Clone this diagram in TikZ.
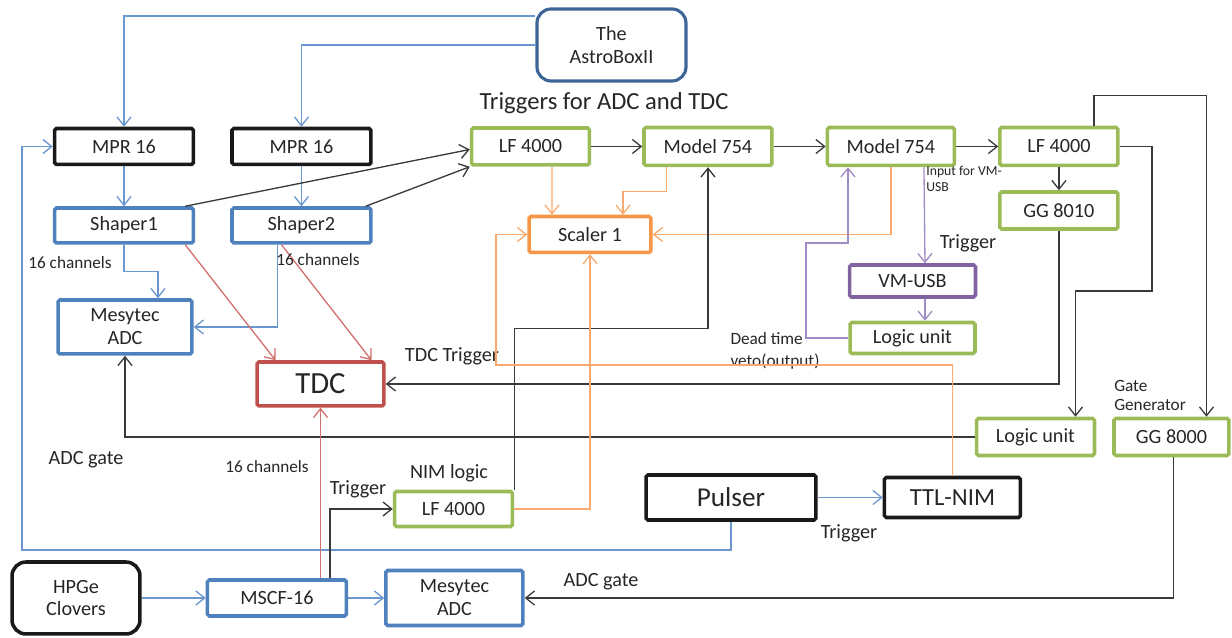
\documentclass[tikz,border=0pt]{standalone}
\usepackage{fontspec}
\setmainfont{Carlito}
\usetikzlibrary{positioning, arrows.meta, calc}
\definecolor{ink}{HTML}{262626}
\definecolor{modblue}{HTML}{4F81BD}
\definecolor{hostblue}{HTML}{3E6597}
\definecolor{modgreen}{HTML}{9BBB59}
\definecolor{modorange}{HTML}{F79646}
\definecolor{modred}{HTML}{C0504D}
\definecolor{modpurple}{HTML}{8064A2}
\definecolor{wireblue}{HTML}{6A97CF}
\definecolor{wireorange}{HTML}{F9AA6E}
\definecolor{wirered}{HTML}{D2716E}
\definecolor{wirepurple}{HTML}{A18DC4}
\definecolor{wiregrey}{HTML}{3A3A3A}
\tikzset{
  modbase/.style  = {rectangle, rounded corners=1pt, line width=2pt,
                     minimum width=2.36cm, minimum height=0.74cm, inner sep=1pt,
                     align=center, text=ink, font=\fontsize{11.5}{13}\selectfont},
  blackbox/.style = {modbase, draw=black!90},
  bluebox/.style  = {modbase, draw=modblue},
  greenbox/.style = {modbase, draw=modgreen},
  orangebox/.style= {modbase, draw=modorange},
  redbox/.style   = {modbase, draw=modred},
  purplebox/.style= {modbase, draw=modpurple},
  srcbox/.style   = {modbase, rounded corners=0.28cm},
  note/.style     = {inner sep=0pt, align=left, text=ink,
                     font=\fontsize{11.5}{13}\selectfont},
  smallnote/.style= {note, font=\fontsize{9.8}{11}\selectfont},
  arr/.style      = {-{Straight Barb[length=5pt,width=8pt]}, line width=0.75pt},
  barr/.style     = {arr, draw=wireblue},
  karr/.style     = {arr, draw=wiregrey},
  oarr/.style     = {arr, draw=wireorange},
  rarr/.style     = {arr, draw=wirered},
  parr/.style     = {arr, draw=wirepurple},
}
\begin{document}
\begin{tikzpicture}[x=0.02cm, y=-0.02cm]
  \useasboundingbox (0,0) rectangle (1232,638);

  % Silicon readout
  \node[srcbox, draw=hostblue, line width=1.8pt, minimum width=2.98cm, minimum height=1.44cm] (astro) at (611.5,45) {The\\AstroBoxII};
  \node[blackbox, minimum width=2.78cm, minimum height=0.72cm] (mprA) at (124,146.5) {MPR 16};
  \node[blackbox, minimum width=2.78cm, minimum height=0.72cm, right=0.7cm of mprA] (mprB) {MPR 16};
  \node[bluebox, minimum width=2.78cm, minimum height=0.7cm, below=0.8cm of mprA] (shpA) {Shaper1};
  \node[bluebox, minimum width=2.78cm, minimum height=0.7cm, below=0.8cm of mprB] (shpB) {Shaper2};
  \node[bluebox, minimum width=2.68cm, minimum height=1.08cm] (adcA) at (125,327) {Mesytec\\ADC};
  \node[redbox, minimum width=2.54cm, minimum height=0.88cm, font=\fontsize{17.5}{19}\selectfont] (tdc) at (320.5,384) {TDC};
  \draw[barr] (astro.west |- 0,16) -| (mprA.north);
  \draw[barr] (astro.west) -| (mprB.north);
  \draw[barr] (mprA) -- (shpA);
  \draw[barr] (mprB) -- (shpB);
  \draw[barr] (shpA.south) -- ++(0,27) -| ($(adcA.north)+(33,0)$);
  \draw[barr] ($(shpB.south)+(-24,0)$) |- (adcA.east);
  \draw[rarr] ($(shpA.south east)+(-10,0)$) -- ($(tdc.north)+(-45,0)$);
  \draw[rarr] ($(shpB.south)+(-20,0)$) -- ($(tdc.north)+(51,0)$);
  \node[smallnote] (chA) at (70,263) {16 channels};
  \node[smallnote] (chB) at (318,260) {16 channels};

  % Triggers for ADC and TDC
  \node[note, font=\fontsize{14}{16}\selectfont] (head) at (604,103) {Triggers for ADC and TDC};
  \node[greenbox] (lfA) at (530.5,146.5) {LF 4000};
  \node[greenbox, minimum width=2.56cm, minimum height=0.76cm, right=1.02cm of lfA] (modA) {Model 754};
  \node[greenbox, minimum width=2.54cm, minimum height=0.76cm, right=1.04cm of modA] (modB) {Model 754};
  \node[greenbox, minimum height=0.76cm, right=0.84cm of modB] (lfB) {LF 4000};
  \node[greenbox, below=0.46cm of lfB] (gg8010) {GG 8010};
  \node[orangebox, minimum width=2.44cm, minimum height=0.72cm] (scaler) at (590,234.5) {Scaler 1};
  \node[purplebox, minimum width=2.52cm, minimum height=0.64cm] (vmusb) at (912.5,281) {VM-USB};
  \node[greenbox, minimum width=2.5cm, minimum height=0.62cm, below=0.44cm of vmusb] (logicA) {Logic unit};
  \node[greenbox] (logicB) at (1035.5,437) {Logic unit};
  \node[greenbox, minimum width=2.3cm, right=0.32cm of logicB] (gg8000) {GG 8000};
  \draw[karr] ($(shpA.north east)+(-10,0)$) -- ($(lfA.west)+(0,3)$);
  \draw[karr] ($(shpB.north east)+(-7,0)$) -- (lfA.south west);
  \draw[karr] (lfA) -- (modA);
  \draw[karr] (modA) -- (modB);
  \draw[karr] (modB) -- (lfB);
  \draw[karr] (lfB) -- (gg8010);
  \draw[karr] ($(lfB.north)+(35,0)$) -- ++(0,-30) -| ($(gg8000.north)+(35,0)$);
  \draw[karr] (lfB.east) -| (1152,291) -| ($(logicB.north)+(40,0)$);
  \draw[karr] (gg8010.south) |- (tdc.east);
  \draw[karr] (logicB.west) -| (adcA.south);
  \draw[oarr] ($(lfA.south)+(21.5,0)$) -- ($(scaler.north)+(-38,0)$);
  \draw[oarr] ($(modA.south)+(-41.5,0)$) -- ++(0,24) -| ($(scaler.north)+(33,0)$);
  \draw[oarr] (modB.south) |- (scaler.east);
  \draw[parr] ($(modB.south)+(33,0)$) -- ($(vmusb.north)+(12.5,0)$);
  \draw[parr] ($(vmusb.south)+(12.5,0)$) -- ($(logicA.north)+(12.5,0)$);
  \draw[parr] (logicA.west) -| (806,243) -| ($(modB.south)+(-43,0)$);
  \node[note, font=\fontsize{7.8}{9}\selectfont, anchor=north west] (vmin) at (926,166) {Input for VM-\\USB};
  \node[note] (trigV) at (968,243) {Trigger};
  \node[smallnote, font=\fontsize{9.8}{12.5}\selectfont] (dead) at (775,351) {Dead time\\veto(output)};
  \node[smallnote, font=\fontsize{9.8}{10.8}\selectfont] (gatelab) at (1150,395) {Gate\\Generator};
  \node[note] (tdctrig) at (452,356) {TDC Trigger};
  \node[note] (adcgA) at (86,460) {ADC gate};

  % Pulser and HPGe branch
  \node[blackbox, minimum width=3.4cm, minimum height=0.9cm, font=\fontsize{15.5}{17}\selectfont] (pulser) at (731,497.5) {Pulser};
  \node[blackbox, minimum width=2.72cm, minimum height=0.8cm, font=\fontsize{14}{16}\selectfont, right=1.3cm of pulser] (ttl) {TTL-NIM};
  \node[greenbox, minimum height=0.7cm] (lfC) at (453.5,509) {LF 4000};
  \node[srcbox, draw=black!90, minimum width=2.56cm, minimum height=1.44cm] (hpge) at (76,598) {HPGe\\Clovers};
  \node[bluebox, minimum width=2.78cm, minimum height=0.72cm, right=1.28cm of hpge] (mscf) {MSCF-16};
  \node[bluebox, minimum width=2.74cm, minimum height=1.1cm, right=0.72cm of mscf] (adcB) {Mesytec\\ADC};
  \draw[barr] (pulser) -- (ttl);
  \draw[barr] (pulser.south) |- (22,550) |- (mprA.west);
  \draw[barr] (hpge) -- (mscf);
  \draw[barr] (mscf) -- (adcB);
  \draw[rarr] (tdc.south |- mscf.north) -- (tdc.south);
  \draw[karr] ($(mscf.north)+(53,0)$) |- (lfC.west);
  \draw[karr] (lfC.north east) -- ++(0,-161) -| (modA.south);
  \draw[karr] ($(gg8000.south)+(2,0)$) |- (adcB.east);
  \draw[oarr] (lfC.east) -| (scaler.south);
  \draw[oarr] (ttl.north) |- (496,365) |- (scaler.west);
  \node[smallnote] (chC) at (267,467) {16 channels};
  \node[note] (trigM) at (358,489) {Trigger};
  \node[note] (nim) at (449,473) {NIM logic};
  \node[note] (trigP) at (849,533) {Trigger};
  \node[note] (adcgB) at (601,582) {ADC gate};

\end{tikzpicture}
\end{document}
